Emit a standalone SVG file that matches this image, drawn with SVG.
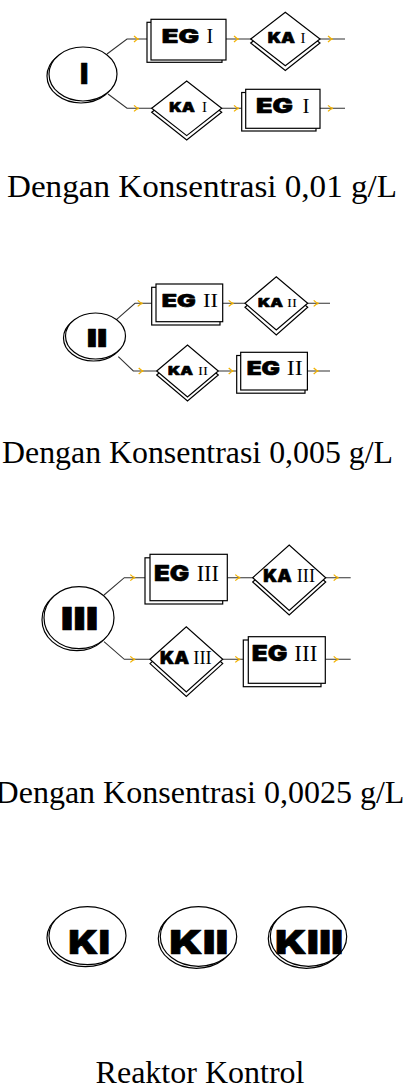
<svg xmlns="http://www.w3.org/2000/svg" width="404" height="1088" viewBox="0 0 404 1088">
<defs>
<style>
.sh{fill:#fff;stroke:#000;stroke-width:1.2}
.fr{fill:#fff;stroke:#000;stroke-width:1.2}
.con{fill:none;stroke:#333;stroke-width:1.1}
.mk{fill:none;stroke:#f2b200;stroke-width:1.2}
.hv{font-family:Inter,"Liberation Sans",sans-serif;font-weight:900;fill:#000;stroke:#000;stroke-width:0.6;stroke-linejoin:round}
.sr{font-family:"Liberation Serif","Times New Roman",serif;fill:#000}
.cap{font-family:"Liberation Serif","Times New Roman",serif;font-size:32px;fill:#000}
</style>
<path id="m" d="M-3,-3 C-1,-1 0,0 2,0 M-3,3 C-1,1 0,0 2,0"/>
</defs>
<rect width="404" height="1088" fill="#fff"/>
<g id="connectors">
<path class="con" d="M107,54 L127,39 H147 M226,39 H251 M320,39 H345"/>
<path class="con" d="M108,94 L127,108.3 H152 M222,108.3 H242 M320,108.3 H345"/>
<path class="con" d="M116.7,319.3 L135,303.3 H152 M222.7,303.3 H245 M307.7,303.3 H330"/>
<path class="con" d="M118.3,356.7 L133.3,371 H156.7 M218.3,371 H236.7 M307.3,371 H330"/>
<path class="con" d="M104,595 L124.3,577.7 H145 M227.3,577.7 H252.7 M325.7,577.7 H350.7"/>
<path class="con" d="M104,641.7 L124.3,659.3 H150 M222.7,659.3 H243.3 M325.7,659.3 H350.7"/>
<g class="mk">
<use href="#m" x="137" y="39"/><use href="#m" x="237" y="39"/><use href="#m" x="331" y="39"/>
<use href="#m" x="137" y="108.3"/><use href="#m" x="237" y="108.3"/><use href="#m" x="331" y="108.3"/>
<use href="#m" x="140.7" y="303.3"/><use href="#m" x="231.7" y="303.3"/><use href="#m" x="316.7" y="303.3"/>
<use href="#m" x="141.7" y="371"/><use href="#m" x="231.7" y="371"/><use href="#m" x="316.7" y="371"/>
<use href="#m" x="133.3" y="577.7"/><use href="#m" x="238.3" y="577.7"/><use href="#m" x="336.7" y="577.7"/>
<use href="#m" x="133.3" y="659.3"/><use href="#m" x="238.3" y="659.3"/><use href="#m" x="336.7" y="659.3"/>
</g>
</g>

<!-- Section 1 -->
<g id="n-I">
<ellipse class="sh" cx="81" cy="76" rx="34" ry="27"/>
<ellipse class="fr" cx="83" cy="74" rx="34" ry="27"/>
<text class="hv" x="80" y="84" font-size="28" textLength="8.3" lengthAdjust="spacingAndGlyphs">I</text>
</g>
<g id="n-EG-I-top">
<rect class="sh" x="147" y="22.3" width="75" height="40"/>
<rect class="fr" x="151" y="19.3" width="75" height="40.7"/>
<text class="hv" x="161.7" y="43.3" font-size="18.6" textLength="37.3" lengthAdjust="spacingAndGlyphs">EG</text>
<text class="sr" x="206.5" y="43.3" font-size="20">I</text>
</g>
<g id="n-KA-I-top">
<polygon class="sh" points="250.7,43 285.3,16 320,43 285.3,70.5"/>
<polygon class="fr" points="250.7,39 285.3,12.3 320,39 285.3,65.7"/>
<text class="hv" x="267.7" y="43.3" font-size="14" textLength="27.3" lengthAdjust="spacingAndGlyphs">KA</text>
<text class="sr" x="300.5" y="43.3" font-size="15">I</text>
</g>
<g id="n-KA-I-bot">
<polygon class="sh" points="151.7,112.3 186.7,85.3 221.7,112.3 186.7,140"/>
<polygon class="fr" points="151.7,108.3 186.7,81 221.7,108.3 186.7,135.6"/>
<text class="hv" x="169.3" y="112.3" font-size="13.5" textLength="25.7" lengthAdjust="spacingAndGlyphs">KA</text>
<text class="sr" x="202" y="112.3" font-size="15">I</text>
</g>
<g id="n-EG-I-bot">
<rect class="sh" x="241.7" y="92.5" width="74.3" height="38.5"/>
<rect class="fr" x="245.7" y="89.3" width="74.3" height="39"/>
<text class="hv" x="256" y="113.3" font-size="20" textLength="37" lengthAdjust="spacingAndGlyphs">EG</text>
<text class="sr" x="302.5" y="113.3" font-size="21">I</text>
</g>
<text class="cap" x="7" y="197" textLength="390" lengthAdjust="spacingAndGlyphs">Dengan Konsentrasi 0,01 g/L</text>

<!-- Section 2 -->
<g id="n-II">
<ellipse class="sh" cx="93.5" cy="338" rx="30" ry="23"/>
<ellipse class="fr" cx="95.5" cy="336" rx="30" ry="23"/>
<text class="hv" x="86.7" y="347.3" font-size="24" textLength="20.6" lengthAdjust="spacingAndGlyphs">II</text>
</g>
<g id="n-EG-II-top">
<rect class="sh" x="151.7" y="287.3" width="68.3" height="37.7"/>
<rect class="fr" x="156" y="284" width="66.7" height="37.7"/>
<text class="hv" x="161.7" y="307.3" font-size="17" textLength="34" lengthAdjust="spacingAndGlyphs">EG</text>
<text class="sr" x="203" y="307.3" font-size="18.5" textLength="15" lengthAdjust="spacingAndGlyphs">II</text>
</g>
<g id="n-KA-II-top">
<polygon class="sh" points="245,307.3 276.3,280.7 307.7,307.3 276.3,335"/>
<polygon class="fr" points="245,303.3 276.3,276.7 307.7,303.3 276.3,330"/>
<text class="hv" x="258" y="307.3" font-size="12" textLength="25" lengthAdjust="spacingAndGlyphs">KA</text>
<text class="sr" x="287" y="307.3" font-size="13" textLength="10" lengthAdjust="spacingAndGlyphs">II</text>
</g>
<g id="n-KA-II-bot">
<polygon class="sh" points="156.7,375 187.5,349 218.3,375 187.5,401"/>
<polygon class="fr" points="156.7,371 187.5,345 218.3,371 187.5,397"/>
<text class="hv" x="168" y="375" font-size="12" textLength="25" lengthAdjust="spacingAndGlyphs">KA</text>
<text class="sr" x="198" y="375" font-size="13" textLength="10" lengthAdjust="spacingAndGlyphs">II</text>
</g>
<g id="n-EG-II-bot">
<rect class="sh" x="236.7" y="355.5" width="68.3" height="37.7"/>
<rect class="fr" x="240.7" y="352.3" width="66.7" height="37.7"/>
<text class="hv" x="246.7" y="375" font-size="18.5" textLength="33.3" lengthAdjust="spacingAndGlyphs">EG</text>
<text class="sr" x="286.7" y="375" font-size="20" textLength="16" lengthAdjust="spacingAndGlyphs">II</text>
</g>
<text class="cap" x="2" y="463" textLength="391" lengthAdjust="spacingAndGlyphs">Dengan Konsentrasi 0,005 g/L</text>

<!-- Section 3 -->
<g id="n-III">
<ellipse class="sh" cx="77" cy="619.7" rx="35" ry="31"/>
<ellipse class="fr" cx="79" cy="617.7" rx="35" ry="31"/>
<text class="hv" x="60.7" y="630" font-size="32" textLength="37.6" lengthAdjust="spacingAndGlyphs">III</text>
</g>
<g id="n-EG-III-top">
<rect class="sh" x="145" y="557.8" width="77.7" height="46.2"/>
<rect class="fr" x="150" y="554.3" width="77.3" height="46.4"/>
<text class="hv" x="154" y="580.7" font-size="22" textLength="35.3" lengthAdjust="spacingAndGlyphs">EG</text>
<text class="sr" x="196.7" y="580.7" font-size="23.7" textLength="22.3" lengthAdjust="spacingAndGlyphs">III</text>
</g>
<g id="n-KA-III-top">
<polygon class="sh" points="252.7,582 289.2,549.5 325.7,582 289.2,615"/>
<polygon class="fr" points="252.7,577.7 289.2,545 325.7,577.7 289.2,610.4"/>
<text class="hv" x="263.3" y="582.3" font-size="17" textLength="28.4" lengthAdjust="spacingAndGlyphs">KA</text>
<text class="sr" x="296.7" y="582.3" font-size="18.5" textLength="18.3" lengthAdjust="spacingAndGlyphs">III</text>
</g>
<g id="n-KA-III-bot">
<polygon class="sh" points="150,663.6 186.3,631 222.7,663.6 186.3,696.5"/>
<polygon class="fr" points="150,659.3 186.3,626.7 222.7,659.3 186.3,692"/>
<text class="hv" x="160" y="664" font-size="17" textLength="29" lengthAdjust="spacingAndGlyphs">KA</text>
<text class="sr" x="193.3" y="664" font-size="18.5" textLength="18.4" lengthAdjust="spacingAndGlyphs">III</text>
</g>
<g id="n-EG-III-bot">
<rect class="sh" x="243.3" y="640" width="77.7" height="46.7"/>
<rect class="fr" x="248.3" y="636.7" width="77" height="46.6"/>
<text class="hv" x="251.7" y="660.7" font-size="22" textLength="35.6" lengthAdjust="spacingAndGlyphs">EG</text>
<text class="sr" x="294.3" y="660.7" font-size="23.7" textLength="23" lengthAdjust="spacingAndGlyphs">III</text>
</g>
<text class="cap" x="200" y="803" text-anchor="middle">Dengan Konsentrasi 0,0025 g/L</text>

<!-- Section 4 -->
<g id="n-KI">
<ellipse class="sh" cx="85.5" cy="937.7" rx="38.5" ry="29"/>
<ellipse class="fr" cx="87.5" cy="935.7" rx="38.5" ry="29"/>
<text class="hv" x="68.3" y="954.3" font-size="33" textLength="41.7" lengthAdjust="spacingAndGlyphs">KI</text>
</g>
<g id="n-KII">
<ellipse class="sh" cx="196.5" cy="938.5" rx="38.2" ry="29.8"/>
<ellipse class="fr" cx="198.5" cy="936.5" rx="38.2" ry="29.8"/>
<text class="hv" x="169.3" y="954.3" font-size="33" textLength="59" lengthAdjust="spacingAndGlyphs">KII</text>
</g>
<g id="n-KIII">
<ellipse class="sh" cx="306.5" cy="938.5" rx="38.2" ry="29.8"/>
<ellipse class="fr" cx="308.5" cy="936.5" rx="38.2" ry="29.8"/>
<text class="hv" x="275" y="954.3" font-size="33" textLength="68.3" lengthAdjust="spacingAndGlyphs">KIII</text>
</g>
<text class="cap" x="200" y="1083" text-anchor="middle">Reaktor Kontrol</text>
</svg>
